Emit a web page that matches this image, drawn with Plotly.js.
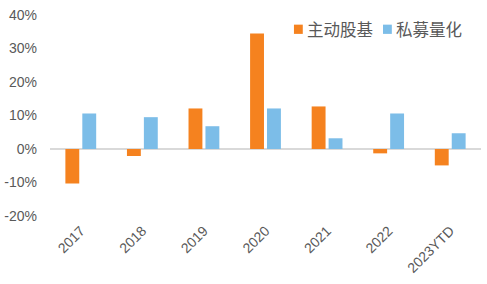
<!DOCTYPE html>
<html><head><meta charset="utf-8">
<script src="https://cdn.plot.ly/plotly-3.0.1.min.js"></script>
<style>html,body{margin:0;padding:0;background:#fff}#c{width:487px;height:284px}</style>
</head><body><div id="c"></div>
<script>
var categories = ['2017','2018','2019','2020','2021','2022','2023YTD'];
var activeEquity = [-0.103, -0.021, 0.121, 0.345, 0.127, -0.013, -0.049];
var privateQuant = [0.106, 0.095, 0.068, 0.121, 0.032, 0.106, 0.047];
var seriesNames = ['主动股基', '私募量化'];
var seriesColors = ['#F5821F', '#7CBDE8'];
var yTicks = [-0.2,-0.1,0,0.1,0.2,0.3,0.4];
var yTickText = ['-20%','-10%','0%','10%','20%','30%','40%'];

var font = 'Liberation Sans, Arial, "Noto Sans CJK SC", sans-serif';
var data = [
  {type:'bar', name:seriesNames[0], x:categories, y:activeEquity, marker:{color:seriesColors[0]}},
  {type:'bar', name:seriesNames[1], x:categories, y:privateQuant, marker:{color:seriesColors[1]}}
];
// custom legend (squares + labels) to match the reference's compact legend
var legX = [0.566, 0.7726];
var shapes = [], annotations = [];
for (var i = 0; i < 2; i++) {
  shapes.push({type:'rect', xref:'paper', yref:'paper', x0:legX[i], x1:legX[i]+0.0205,
               y0:0.906, y1:0.952, fillcolor:seriesColors[i], line:{width:0}});
  annotations.push({xref:'paper', yref:'paper', x:legX[i]+0.026, y:0.930, xanchor:'left', yanchor:'middle',
               text:seriesNames[i], showarrow:false,
               font:{family:'"Noto Sans CJK SC", sans-serif', size:16.5, color:'#595959'}});
}
var layout = {
  width:487, height:284,
  margin:{l:50, r:6, t:15, b:68},
  paper_bgcolor:'#fff', plot_bgcolor:'#fff',
  barmode:'group', bargap:0.45, bargroupgap:0.18,
  font:{family:font, color:'#595959', size:14},
  showlegend:false,
  shapes:shapes, annotations:annotations,
  xaxis:{type:'category', tickangle:-45, showgrid:false, zeroline:false, showline:false, ticks:'',
         ticklabelstandoff:3, tickfont:{size:14, color:'#595959'}},
  yaxis:{range:[-0.2,0.4], tickvals:yTicks, ticktext:yTickText, showgrid:false,
         zeroline:true, zerolinecolor:'#D9D9D9', zerolinewidth:2, showline:false, ticks:'',
         ticklabelstandoff:12, tickfont:{size:14, color:'#595959'}}
};
Plotly.newPlot('c', data, layout, {staticPlot:true});
</script></body></html>
